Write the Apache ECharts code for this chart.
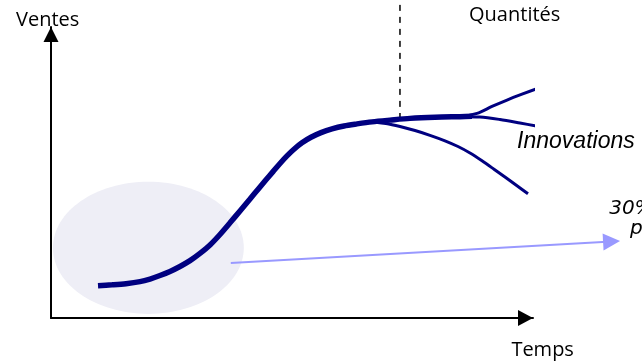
<!DOCTYPE html>
<html>
<head>
<meta charset="utf-8">
<script src="https://cdn.jsdelivr.net/npm/echarts@6/dist/echarts.min.js"></script>
<style>
  html, body { margin: 0; padding: 0; background: #ffffff; }
  #chart { width: 642px; height: 363px; }
</style>
</head>
<body>
<div id="chart"></div>
<script>
// Cycle de vie d'un produit : ventes au fil du temps (unités relatives, 0–100 par axe)

// Courbe principale (lancement -> maturité)
const tempsCourbe  = [9.75, 12.66, 15.56, 18.46, 20.54, 22.61, 24.69, 26.76, 28.84, 30.91, 32.99, 35.06, 37.14, 39.21, 41.29, 43.15, 44.61, 46.06, 47.51, 48.96, 50.41, 52.07, 53.94, 56.02, 58.30, 60.79, 63.49, 66.60, 70.33, 74.48, 79.67, 84.85, 87.34];
const ventesCourbe = [11.1, 11.4, 11.8, 12.5, 13.4, 14.6, 16.0, 17.7, 19.7, 22.2, 25.1, 28.7, 32.7, 36.8, 40.9, 44.6, 47.5, 50.3, 53.1, 55.7, 58.0, 60.2, 62.1, 63.7, 65.0, 66.0, 66.7, 67.4, 68.0, 68.6, 69.0, 69.2, 69.3];

// Trois évolutions possibles après la maturité
const tempsHaut    = [79.67, 84.85, 88.38, 91.49, 94.61, 97.72, 100.83, 103.53];
const ventesHaut   = [69.0, 69.2, 70.3, 72.7, 74.9, 76.9, 78.8, 80.3];
const tempsMilieu  = [79.67, 84.85, 89.0, 93.15, 97.3, 100.41, 102.9];
const ventesMilieu = [69.0, 69.2, 69.07, 68.21, 67.01, 66.05, 65.29];
const tempsBas     = [63.49, 66.60, 69.5, 72.41, 75.52, 78.63, 81.74, 84.44, 86.93, 89.42, 91.91, 94.4, 96.68, 98.96];
const ventesBas    = [66.7, 67.39, 66.84, 65.81, 64.43, 62.78, 60.89, 58.93, 56.70, 54.02, 51.13, 48.18, 45.43, 42.68];

// Zone de lancement (ellipse) : centre et demi-axes
const zoneCentre = [20.2, 24.1];
const zoneRayons = [19.8, 22.7];

// Flèche partant de la zone de lancement
const flecheDebut = [37.3, 18.9];
const flecheFin   = [116.3, 26.3];

// Repère vertical pointillé (seuil des quantités)
const reperePointille = [[72.4, 107.6], [72.4, 68.7]];

// Bord du cadre à droite
const cadre = [[121.8, 115], [121.8, 79.0], [130, 79.0]];

// Textes
const textes  = ['Ventes', 'Quantités', 'Temps', 'Innovations', '30%', 'p'];
const textesT = [-0.7, 96.2, 102.0, 96.7, 115.8, 120.1];
const textesV = [102.3, 104.1, -11.2, 60.6, 37.6, 30.6];

const pairs = (xs, ys) => xs.map((x, i) => [x, ys[i]]);

const navy = '#000080';
const titre = { fontFamily: 'Open Sans', fontSize: 20, color: '#000000', align: 'center' };
const petit = { fontFamily: 'DejaVu Sans', fontStyle: 'italic', fontSize: 20, color: '#000000', align: 'left' };
const styleTextes = [
  titre, titre, titre,
  { fontFamily: 'Liberation Sans', fontStyle: 'italic', fontSize: 23, color: '#000000', align: 'left' },
  petit, petit
];

const axe = {
  show: true,
  onZero: false,
  symbol: ['none', 'triangle'],
  symbolOffset: [0, -7.5],
  lineStyle: { color: '#000000', width: 2 }
};

const lisse = 0.3;

const chart = echarts.init(document.getElementById('chart'), null, { renderer: 'canvas' });
chart.setOption({
  animation: false,
  backgroundColor: '#ffffff',
  grid: { left: 51, top: 27, width: 482, height: 291, containLabel: false, outerBoundsMode: 'none' },
  xAxis: {
    type: 'value', min: 0, max: 100,
    axisLine: Object.assign({}, axe, { symbolSize: [16, 15] }),
    axisTick: { show: false }, axisLabel: { show: false }, splitLine: { show: false }
  },
  yAxis: {
    type: 'value', min: 0, max: 100,
    axisLine: Object.assign({}, axe, { symbolSize: [15, 15] }),
    axisTick: { show: false }, axisLabel: { show: false }, splitLine: { show: false }
  },
  series: [
    {
      // zone de lancement
      type: 'custom',
      clip: false,
      silent: true,
      z: 1,
      data: [[zoneCentre[0], zoneCentre[1], zoneRayons[0], zoneRayons[1]]],
      renderItem: function (params, api) {
        const c = api.coord([api.value(0), api.value(1)]);
        const s = api.size([api.value(2), api.value(3)]);
        return {
          type: 'ellipse',
          shape: { cx: c[0], cy: c[1], rx: s[0], ry: s[1] },
          style: { fill: '#eeeef6', stroke: null }
        };
      }
    },
    {
      // flèche
      type: 'lines',
      coordinateSystem: 'cartesian2d',
      clip: false,
      silent: true,
      z: 2,
      symbol: ['none', 'triangle'],
      symbolSize: [13, 17],
      lineStyle: { color: '#9999ff', width: 2, opacity: 1, curveness: 0 },
      data: [{ coords: [flecheDebut, flecheFin] }]
    },
    {
      type: 'line', data: reperePointille, clip: false, showSymbol: false, silent: true, z: 2,
      lineStyle: { color: '#000000', width: 1.5, type: [6, 6] }
    },
    {
      type: 'line', data: cadre, clip: false, showSymbol: false, silent: true, z: 2,
      lineStyle: { color: '#000000', width: 2 }
    },
    {
      type: 'line', data: pairs(tempsHaut, ventesHaut), smooth: lisse, clip: false, showSymbol: false, silent: true, z: 3,
      lineStyle: { color: navy, width: 3 }
    },
    {
      type: 'line', data: pairs(tempsMilieu, ventesMilieu), smooth: lisse, clip: false, showSymbol: false, silent: true, z: 3,
      lineStyle: { color: navy, width: 3 }
    },
    {
      type: 'line', data: pairs(tempsBas, ventesBas), smooth: lisse, clip: false, showSymbol: false, silent: true, z: 3,
      lineStyle: { color: navy, width: 3 }
    },
    {
      type: 'line', data: pairs(tempsCourbe, ventesCourbe), smooth: lisse, clip: false, showSymbol: false, silent: true, z: 4,
      lineStyle: { color: navy, width: 5.5 }
    },
    {
      // textes
      type: 'scatter',
      clip: false,
      silent: true,
      symbolSize: 0,
      itemStyle: { opacity: 1 },
      z: 5,
      data: textes.map((t, i) => ({
        value: [textesT[i], textesV[i]],
        label: Object.assign({
          show: true,
          position: 'inside',
          verticalAlign: 'middle',
          opacity: 1,
          formatter: t
        }, styleTextes[i])
      }))
    }
  ]
});
</script>
</body>
</html>
